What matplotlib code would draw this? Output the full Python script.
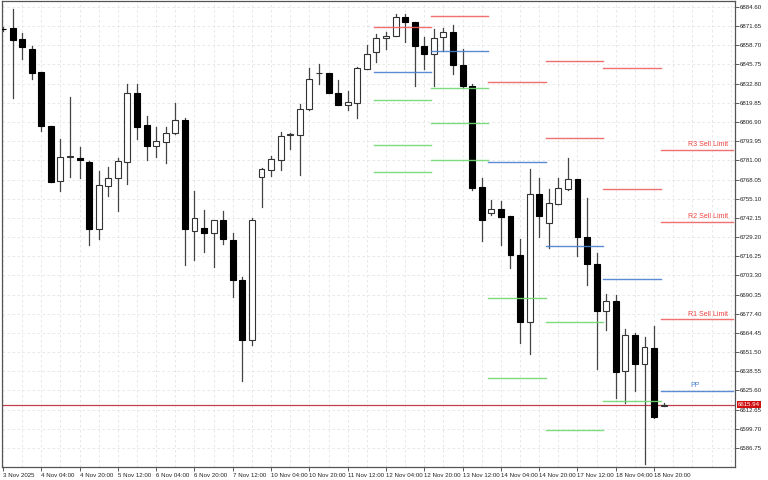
import matplotlib
matplotlib.use("Agg")
import matplotlib.pyplot as plt
from matplotlib.patches import Rectangle

plt.rcParams['font.family'] = ['Liberation Sans', 'DejaVu Sans']

opens = [6869.9,6870.4,6863.0,6856.2,6840.7,6804.4,6767.3,6783.5,6782.8,6780.1,
         6734.9,6763.9,6769.3,6780.1,6826.6,6805.0,6790.9,6793.6,6799.6,6808.4,
         6733.6,6735.6,6732.2,6741.0,6727.5,6699.9,6659.4,6770.0,6774.7,6781.4,
         6798.0,6798.3,6815.8,6839.7,6840.1,6826.6,6818.5,6819.9,6842.8,6854.2,
         6863.7,6865.0,6877.8,6874.4,6858.3,6852.9,6864.3,6867.7,6845.5,6831.3,
         6763.2,6745.7,6748.4,6743.7,6717.4,6671.6,6758.5,6739.0,6751.8,6761.9,
         6768.6,6728.9,6711.3,6679.0,6685.8,6638.6,6662.8,6643.3,6654.0,6615.0]
highs = [6871.1,6883.2,6867.0,6858.3,6840.7,6804.4,6795.6,6823.9,6790.2,6780.8,
         6774.0,6776.7,6782.8,6832.7,6832.7,6811.1,6803.7,6803.7,6819.9,6809.7,
         6760.5,6747.7,6741.0,6747.1,6732.2,6701.9,6742.3,6776.0,6784.1,6800.3,
         6799.6,6819.2,6843.4,6846.1,6840.1,6835.4,6827.9,6844.1,6858.9,6866.4,
         6867.7,6879.8,6879.8,6874.4,6864.3,6869.7,6870.4,6872.4,6856.2,6832.7,
         6769.3,6754.5,6753.8,6743.7,6728.2,6775.4,6769.3,6761.9,6769.3,6782.8,
         6768.6,6755.8,6718.1,6690.4,6689.8,6666.9,6664.2,6661.5,6668.9,6617.0]
lows = [6868.4,6823.2,6849.5,6836.0,6801.0,6766.6,6760.5,6770.0,6769.3,6724.1,
        6728.2,6757.2,6747.1,6765.3,6795.6,6781.4,6783.5,6779.4,6799.0,6710.0,
        6714.0,6718.8,6709.3,6724.8,6688.4,6631.8,6656.1,6749.8,6770.6,6774.7,
        6788.9,6771.3,6815.1,6832.7,6826.6,6818.5,6815.1,6809.7,6842.8,6847.5,
        6856.2,6865.0,6861.0,6831.3,6842.8,6831.3,6854.9,6839.4,6830.0,6761.2,
        6726.2,6744.4,6723.5,6708.0,6657.4,6650.0,6728.9,6722.1,6751.8,6761.2,
        6716.1,6696.5,6639.9,6666.2,6620.3,6617.0,6625.1,6575.9,6606.9,6615.0]
closes = [6869.5,6862.3,6857.6,6840.1,6804.4,6766.6,6783.5,6784.1,6781.4,6734.3,
          6764.6,6769.3,6780.8,6826.6,6803.7,6790.9,6794.2,6799.6,6808.4,6734.3,
          6742.3,6731.6,6741.0,6728.2,6699.9,6659.4,6741.0,6775.4,6782.1,6797.6,
          6798.6,6815.8,6836.0,6840.1,6826.6,6818.5,6820.5,6843.4,6852.9,6863.7,
          6865.0,6877.8,6874.4,6858.3,6852.9,6863.7,6867.7,6845.5,6831.3,6762.6,
          6741.0,6748.4,6743.0,6717.4,6671.6,6758.5,6743.7,6752.5,6762.6,6768.6,
          6728.9,6710.7,6679.0,6685.8,6637.9,6662.8,6643.3,6654.8,6607.5,6615.94]

x_labels = ["3 Nov 2025","4 Nov 04:00","4 Nov 20:00","5 Nov 12:00","6 Nov 04:00",
            "6 Nov 20:00","7 Nov 12:00","10 Nov 04:00","10 Nov 20:00","11 Nov 12:00",
            "12 Nov 04:00","12 Nov 20:00","13 Nov 12:00","14 Nov 04:00","14 Nov 20:00",
            "17 Nov 12:00","18 Nov 04:00","18 Nov 20:00"]
y_ticks = [6884.60,6871.65,6858.70,6845.75,6832.80,6819.85,6806.90,6793.95,6781.00,
           6768.05,6755.10,6742.15,6729.20,6716.25,6703.30,6690.35,6677.40,6664.45,
           6651.50,6638.55,6625.60,6612.65,6599.70,6586.75]

# pivot segments: (start, end, red levels, blue levels, green levels)
seg_start = [39, 45, 51, 57, 63, 69]
seg_end = [45, 51, 57, 63, 69, 76.5]
seg_red = [[6871.3],[6878.3],[6834.0],[6848.0,6796.3],[6843.6,6761.9],[6788.2,6739.6,6673.6]]
seg_blue = [[6840.5],[6854.9],[6780.1],[6723.1],[6700.6],[6625.1]]
seg_green = [[6821.7,6791.3,6772.9],[6829.8,6806.4,6781.2],[6687.7,6633.8],[6671.6,6598.8],[6618.3],[]]
last_labels = ["R3 Sell Limit","R2 Sell Limit","R1 Sell Limit"]
current_price = 6615.94

fig = plt.figure(figsize=(7.68, 4.8), dpi=100)
ax = fig.add_axes([0.002, 13/480, 733/768, 466/480])
ax.set_xlim(-0.15, 76.4)
ax.set_ylim(6573.9, 6888.6)

for xg in range(0, 77, 2):
    ax.axvline(xg, color='#e4e4e4', lw=0.6, ls=(0, (3, 3)), zorder=0)
for yv in y_ticks:
    ax.axhline(yv, color='#e4e4e4', lw=0.6, ls=(0, (3, 3)), zorder=0)

w = 0.62
for i, (o, h, l, c) in enumerate(zip(opens, highs, lows, closes)):
    ax.plot([i, i], [l, h], color='#444444', lw=0.9, zorder=2)
    bottom = min(o, c)
    height = max(abs(c - o), 0.5)
    if c >= o:
        ax.add_patch(Rectangle((i - w/2, bottom), w, height, facecolor='white',
                               edgecolor='#333333', lw=0.8, zorder=3))
    else:
        ax.add_patch(Rectangle((i - w/2, bottom), w, height, facecolor='black',
                               edgecolor='black', lw=0.8, zorder=3))

for s, e, rs, bs, gs in zip(seg_start, seg_end, seg_red, seg_blue, seg_green):
    for v in rs:
        ax.plot([s - 0.3, e - 0.3], [v, v], color='#f06060', lw=1.0, zorder=4, alpha=0.9)
    for v in bs:
        ax.plot([s - 0.3, e - 0.3], [v, v], color='#4a7fd0', lw=1.0, zorder=4, alpha=0.9)
    for v in gs:
        ax.plot([s - 0.3, e - 0.3], [v, v], color='#70d870', lw=1.0, zorder=4, alpha=0.9)

for lab, v in zip(last_labels, seg_red[-1]):
    ax.text(75.7, v + 1.2, lab, color='#f04040', fontsize=5, ha='right', va='bottom')
ax.text(72.3, seg_blue[-1][0] + 1.2, "PP", color='#4a7fd0', fontsize=5, ha='center', va='bottom')

ax.axhline(current_price, color='#c04050', lw=0.9, zorder=1)

ax.set_xticks(range(0, 69, 4))
ax.set_xticklabels(x_labels, fontsize=4.4, ha='left', color='#222222')
ax.set_yticks(y_ticks)
ax.set_yticklabels([f"{v:.2f}" for v in y_ticks], fontsize=4.4, color='#222222')
ax.yaxis.tick_right()
ax.tick_params(axis='both', length=3, width=0.6, pad=1, color='#444444')
for sp in ax.spines.values():
    sp.set_color('#555555')
    sp.set_linewidth(0.9)

ax.text(1.005, current_price, f"{current_price:.2f}", transform=ax.get_yaxis_transform(),
        fontsize=4.4, color='white', va='center', ha='left', zorder=10,
        bbox=dict(boxstyle='square,pad=0.15', facecolor='#d01010', edgecolor='none'),
        clip_on=False)

fig.savefig("out.png", dpi=100)
